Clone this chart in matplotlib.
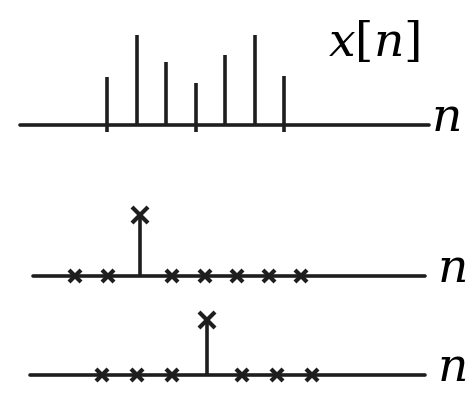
import numpy as np
import matplotlib.pyplot as plt

plt.rcParams['mathtext.fontset'] = 'dejavuserif'
plt.rcParams['figure.facecolor'] = 'white'

# señal x[n]: siete muestras
n_x = np.arange(7)
x_vals = [0.53, 1.0, 0.70, 0.47, 0.78, 1.0, 0.54]
n_marcas = [0, 3, 6]          # muestras con marca bajo el eje

# impulso en n = 0
n_d1 = np.arange(-2, 6)
d1_vals = [0, 0, 1, 0, 0, 0, 0, 0]

# impulso desplazado, n = 3
n_d2 = np.arange(0, 7)
d2_vals = [0, 0, 0, 1, 0, 0, 0]

color = '#1e1e1e'
fig = plt.figure(figsize=(4.73, 3.93), dpi=100)

# paneles: [izq, abajo, ancho, alto], límites x, límites y, tramo del eje, hueco de la etiqueta
paneles = [
    ([0, 1 - 140 / 393, 1, 140 / 393], (-3.63, 12.4), (-0.167, 1.389), (-2.95, 10.9), 2),
    ([0, 1 - 300 / 393, 1, 110 / 393], (-4.33, 10.31), (-0.393, 1.41), (-3.31, 8.82), 12),
    ([0, 0, 1, 93 / 393], (-2.914, 10.6), (-0.327, 1.364), (-2.06, 9.23), 12),
]

ejes = []
for rect, xl, yl, tramo, hueco in paneles:
    ax = fig.add_axes(rect)
    ax.set_xlim(xl)
    ax.set_ylim(yl)
    ax.axis('off')
    ax.plot(tramo, [0, 0], color=color, lw=2.6, solid_capstyle='round')
    ax.annotate(r'$n$', xy=(tramo[1], 0), xytext=(hueco, -6), textcoords='offset pixels',
                ha='left', va='baseline', fontsize=34, color='black')
    ejes.append(ax)

# x[n]
ax = ejes[0]
ax.vlines(n_x, 0, x_vals, color=color, lw=2.6)
ax.vlines(n_marcas, -0.08, 0, color=color, lw=2.6)
fig.text(374 / 473, 1 - 43 / 393, r'$x[n]$', ha='center', va='center',
         fontsize=34, color='black')

# impulsos desplazados
for ax, n_d, d_vals in [(ejes[1], n_d1, d1_vals), (ejes[2], n_d2, d2_vals)]:
    n_d = np.asarray(n_d)
    d_vals = np.asarray(d_vals)
    uno = d_vals != 0
    ax.vlines(n_d[uno], 0, d_vals[uno], color=color, lw=2.6)
    ax.plot(n_d[uno], d_vals[uno], 'x', color=color, ms=11, mew=3)
    ax.plot(n_d[~uno], d_vals[~uno], 'x', color=color, ms=9, mew=3)

fig.savefig('out.png', dpi=100)
